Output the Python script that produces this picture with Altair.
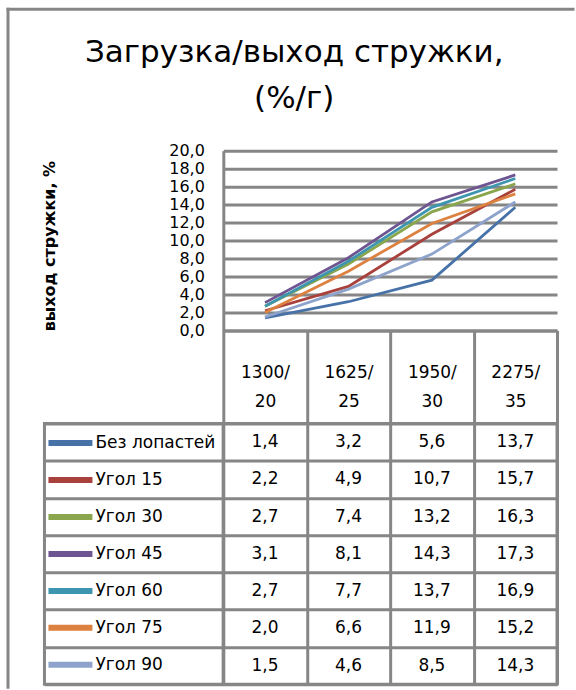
import altair as alt
import pandas as pd

categories = ["1300/20", "1625/25", "1950/30", "2275/35"]
series = ["Без лопастей", "Угол 15", "Угол 30", "Угол 45", "Угол 60", "Угол 75", "Угол 90"]
bez_lopastey = [1.4, 3.2, 5.6, 13.7]
ugol_15 = [2.2, 4.9, 10.7, 15.7]
ugol_30 = [2.7, 7.4, 13.2, 16.3]
ugol_45 = [3.1, 8.1, 14.3, 17.3]
ugol_60 = [2.7, 7.7, 13.7, 16.9]
ugol_75 = [2.0, 6.6, 11.9, 15.2]
ugol_90 = [1.5, 4.6, 8.5, 14.3]
colors = ["#4672A8", "#A8403C", "#8AA64C", "#6E5592", "#3D95AF", "#DC8140", "#8DA3CB"]

values = [bez_lopastey, ugol_15, ugol_30, ugol_45, ugol_60, ugol_75, ugol_90]
rows = []
for s, vals in zip(series, values):
    for c, v in zip(categories, vals):
        rows.append({"series": s, "cat": c, "value": v,
                     "label": f"{v:.1f}".replace(".", ",")})
df = pd.DataFrame(rows)

GRAY = "#868686"
FONT = "DejaVu Sans"

x_scale = alt.Scale(type="band", domain=categories, paddingInner=0, paddingOuter=0)
row_scale = alt.Scale(type="band", domain=series, paddingInner=0, paddingOuter=0)
color_scale = alt.Scale(domain=series, range=colors)

lines = alt.Chart(df).mark_line(strokeWidth=2.8).encode(
    x=alt.X("cat:N", scale=x_scale, sort=categories, axis=alt.Axis(
        title=None, labelAngle=0,
        labelExpr="[substring(datum.label, 0, 5), substring(datum.label, 5)]",
        tickBand="extent", tickSize=93, tickWidth=3, tickColor=GRAY,
        domainColor=GRAY, domainWidth=3, grid=False,
        labelPadding=-59, labelLineHeight=29, labelFont=FONT, labelFontSize=17,
        labelColor="black")),
    y=alt.Y("value:Q", scale=alt.Scale(domain=[0, 20], nice=False), axis=alt.Axis(
        title="выход стружки, %", values=list(range(0, 21, 2)),
        labelExpr="replace(format(datum.value, '.1f'), '.', ',')",
        ticks=False, labelPadding=19, grid=True, gridColor=GRAY, gridWidth=3,
        domainColor=GRAY, domainWidth=3, labelFont=FONT, labelFontSize=16,
        labelColor="black", titleFont=FONT, titleFontSize=16, titleFontWeight="bold",
        titleColor="black", titleX=-174, titleY=95, titleAngle=270,
        titleBaseline="middle", titleAlign="center")),
    color=alt.Color("series:N", scale=color_scale, legend=alt.Legend(
        title=None, orient="none", legendX=1, legendY=267.6,
        symbolType="stroke", symbolSize=1936, symbolStrokeWidth=6,
        labelFont=FONT, labelFontSize=17, labelColor="black", labelOffset=0,
        rowPadding=-15.5, padding=0, labelLimit=0)),
).properties(width=334, height=180)

table = alt.Chart(df).mark_text(font=FONT, fontSize=17, color="black").encode(
    x=alt.X("cat:N", scale=x_scale, sort=categories, axis=alt.Axis(
        title=None, labels=False, ticks=False, domain=False, grid=True,
        tickBand="extent", gridColor=GRAY, gridWidth=3)),
    y=alt.Y("series:N", scale=row_scale, sort=series, axis=alt.Axis(
        title=None, labels=False, ticks=False, domain=False, grid=True,
        tickBand="extent", gridColor=GRAY, gridWidth=3)),
    text="label:N",
).properties(width=334, height=261,
             view=alt.ViewBackground(stroke=GRAY, strokeWidth=3))

series_df = pd.DataFrame({"series": series})
legend_col = alt.Chart(series_df).mark_point(opacity=0).encode(
    y=alt.Y("series:N", scale=row_scale, sort=series, axis=alt.Axis(
        title=None, labels=False, ticks=False, domain=False, grid=True,
        tickBand="extent", gridColor=GRAY, gridWidth=3)),
).properties(width=179, height=261,
             view=alt.ViewBackground(stroke=GRAY, strokeWidth=3))

frame_df = pd.DataFrame({"k": [0]})
frame_left = alt.Chart(frame_df).mark_rule(color=GRAY, strokeWidth=3).encode(
    x=alt.value(-36.5), y=alt.value(-143), y2=alt.value(538.5))
frame_top = alt.Chart(frame_df).mark_rule(color=GRAY, strokeWidth=3).encode(
    y=alt.value(-141.5), x=alt.value(-38), x2=alt.value(530.5))
spacer = alt.layer(frame_left, frame_top).properties(width=179, height=180)

chart = alt.concat(spacer, lines, legend_col, table, columns=2,
                   spacing={"row": 93, "column": 0}, bounds="flush").properties(
    title=alt.Title(["Загрузка/выход стружки,", "(%/г)"], font=FONT, fontSize=31,
                    fontWeight="normal", color="black", lineHeight=46,
                    anchor="start", align="center", frame="group",
                    offset=-108.8, dx=250),
    padding={"left": 4.5, "top": 5.5, "right": 0, "bottom": 0},
    background="white",
).configure_view(strokeWidth=0)

chart.save("out.html", embed_options={"renderer": "svg", "actions": False})
